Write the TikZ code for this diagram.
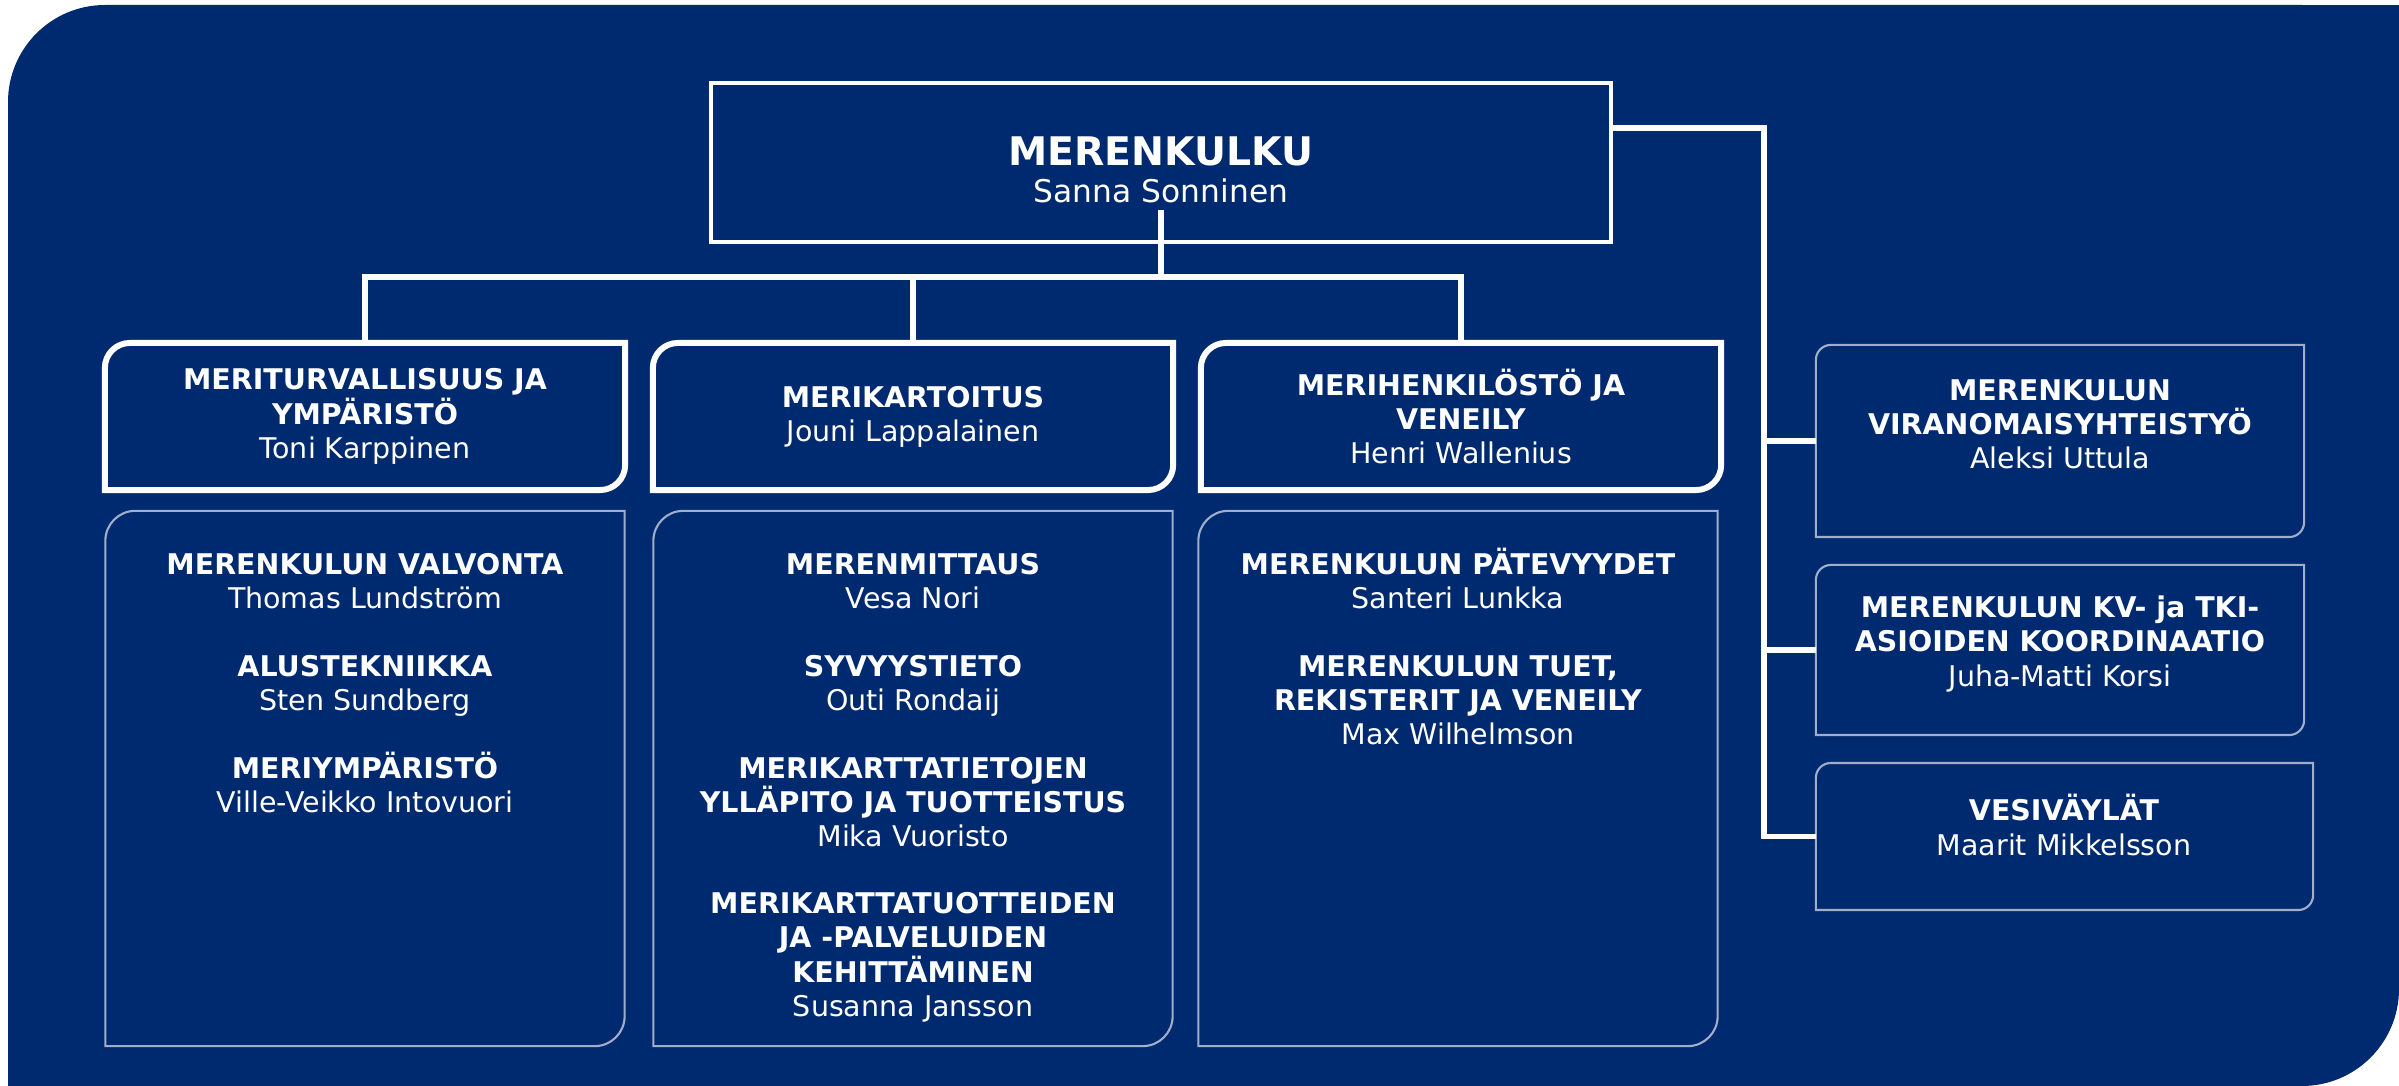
\documentclass[tikz,border=0pt]{standalone}
\usepackage{fontspec}
\setmainfont{DejaVu Sans}
\usetikzlibrary{calc}

\definecolor{vaylanavy}{RGB}{0,42,111}
\definecolor{ohutviiva}{RGB}{160,174,204}

\newcommand{\perusfontti}{\fontsize{8.1}{9.7}\selectfont}
\newcommand{\ylos}{\rule{0pt}{8pt}}
% kehys: pyoristetty vasen ylakulma ja oikea alakulma
\newcommand{\kulmakehys}[3]{%
  \draw[#3] (#1.north east) -- ($(#1.north west)+(#2,0)$)
        arc[start angle=270, end angle=180, radius=#2] -- (#1.south west)
        -- ($(#1.south east)+(-#2,0)$)
        arc[start angle=90, end angle=0, radius=#2] -- cycle;}

\tikzset{
  laatikko/.style={outer sep=0pt, inner sep=0pt},
  teksti/.style={text=white, align=center, inner sep=0pt, font=\perusfontti},
  alateksti/.style={teksti, anchor=north},
  yhteys/.style={white, line width=1.6pt},
  ylakehys/.style={white, line width=1.7pt},
  ohutkehys/.style={ohutviiva, line width=0.6pt}
}

\begin{document}
\begin{tikzpicture}[x=0.01cm, y=-0.01cm]
\useasboundingbox (0,0) rectangle (2399,1086);

% tausta
\fill[vaylanavy, rounded corners=0.97cm] (8,5) rectangle (2399,1086);
\fill[vaylanavy] (1200,5) rectangle (2399,500);
\fill[vaylanavy] (8,500) rectangle (1200,1086);

% johto
\node[laatikko, draw=white, line width=1.1pt, minimum width=9cm, minimum height=1.59cm] (merenkulku) at (1161,162.5) {};
\node[teksti] (johto) at (1161,170)
  {{\fontsize{11.2}{13}\selectfont\bfseries MERENKULKU}\\[1pt]{\fontsize{8.9}{11}\selectfont Sanna Sonninen}};

% yksikot
\node[laatikko, teksti, minimum width=5.2cm, minimum height=1.47cm] (turva) at (365,416.5)
  {\textbf{MERITURVALLISUUS JA}\\\textbf{YMPÄRISTÖ}\\Toni Karppinen};
\node[laatikko, teksti, minimum width=5.2cm, minimum height=1.47cm] (kartoitus) at (913,416.5)
  {\textbf{MERIKARTOITUS}\\Jouni Lappalainen};
\node[laatikko, teksti, minimum width=5.2cm, minimum height=1.47cm] (henkilosto) at (1461,416.5)
  {\textbf{MERIHENKILÖSTÖ JA}\\\textbf{VENEILY}\\Henri Wallenius};
\kulmakehys{turva}{25}{ylakehys}
\kulmakehys{kartoitus}{25}{ylakehys}
\kulmakehys{henkilosto}{25}{ylakehys}

% ryhmat
\node[laatikko, minimum width=5.19cm, minimum height=5.35cm] (turvaosat) at (365,778.5) {};
\node[laatikko, minimum width=5.19cm, minimum height=5.35cm] (kartoitusosat) at (913,778.5) {};
\node[laatikko, minimum width=5.19cm, minimum height=5.35cm] (henkilostoosat) at (1458,778.5) {};
\kulmakehys{turvaosat}{30}{ohutkehys}
\kulmakehys{kartoitusosat}{30}{ohutkehys}
\kulmakehys{henkilostoosat}{30}{ohutkehys}

\node[alateksti] (turvaryhmat) at (365,546)
  {\ylos\textbf{MERENKULUN VALVONTA}\\Thomas Lundström\\[9.5pt]
   \textbf{ALUSTEKNIIKKA}\\Sten Sundberg\\[9.5pt]
   \textbf{MERIYMPÄRISTÖ}\\Ville-Veikko Intovuori};
\node[alateksti] (kartoitusryhmat) at (913,546)
  {\ylos\textbf{MERENMITTAUS}\\Vesa Nori\\[9.5pt]
   \textbf{SYVYYSTIETO}\\Outi Rondaij\\[9.5pt]
   \textbf{MERIKARTTATIETOJEN}\\\textbf{YLLÄPITO JA TUOTTEISTUS}\\Mika Vuoristo\\[9.5pt]
   \textbf{MERIKARTTATUOTTEIDEN}\\\textbf{JA -PALVELUIDEN}\\\textbf{KEHITTÄMINEN}\\Susanna Jansson};
\node[alateksti] (henkilostoryhmat) at (1458,546)
  {\ylos\textbf{MERENKULUN PÄTEVYYDET}\\Santeri Lunkka\\[9.5pt]
   \textbf{MERENKULUN TUET,}\\\textbf{REKISTERIT JA VENEILY}\\Max Wilhelmson};

% erilliset toiminnot
\node[laatikko, minimum width=4.88cm, minimum height=1.92cm] (viranomais) at (2060,441) {};
\node[laatikko, minimum width=4.88cm, minimum height=1.70cm] (kvtki) at (2060,650) {};
\node[laatikko, minimum width=4.97cm, minimum height=1.47cm] (vesivaylat) at (2064.5,836.5) {};
\kulmakehys{viranomais}{15}{ohutkehys}
\kulmakehys{kvtki}{15}{ohutkehys}
\kulmakehys{vesivaylat}{15}{ohutkehys}

\node[teksti] (viranomaisteksti) at (2060,424)
  {\textbf{MERENKULUN}\\\textbf{VIRANOMAISYHTEISTYÖ}\\Aleksi Uttula};
\node[teksti] (kvtkiteksti) at (2060,644)
  {\textbf{MERENKULUN KV- ja TKI-}\\\textbf{ASIOIDEN KOORDINAATIO}\\Juha-Matti Korsi};
\node[teksti] (vesivaylateksti) at (2064,825)
  {\textbf{VESIVÄYLÄT}\\Maarit Mikkelsson};

% yhteydet
\coordinate (varsi) at (1161,210);
\coordinate (vayla) at (1161,277);
\draw[yhteys] (varsi) -- (vayla);
\draw[yhteys] (turva.north) |- (vayla) -| (henkilosto.north);
\draw[yhteys] (kartoitus.north) -- (kartoitus.north |- vayla);

\coordinate (selka) at (1764,128);
\draw[yhteys] (merenkulku.east |- selka) -- (selka) |- (vesivaylat.west);
\draw[yhteys] (selka |- viranomais.west) -- (viranomais.west);
\draw[yhteys] (selka |- kvtki.west) -- (kvtki.west);
\end{tikzpicture}
\end{document}
